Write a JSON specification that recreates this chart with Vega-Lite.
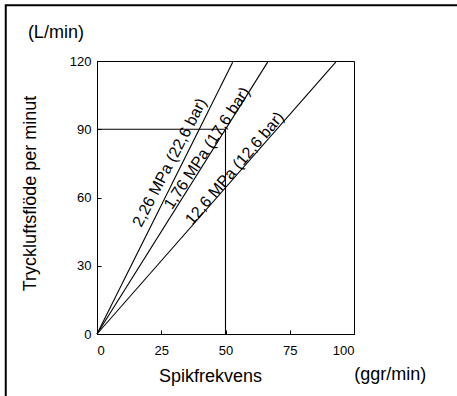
{
  "$schema": "https://vega.github.io/schema/vega-lite/v6.json",
  "width": 257,
  "height": 273,
  "autosize": "none",
  "padding": {"left": 97, "top": 61, "right": 103, "bottom": 62},
  "background": "white",
  "config": {
    "font": "Liberation Sans",
    "view": {"stroke": "black", "strokeWidth": 1},
    "axis": {"grid": false, "domainColor": "black", "tickColor": "black", "labelColor": "black", "titleColor": "black", "titleFontWeight": "normal"}
  },
  "datasets": {
    "lines": [
      {"serie": "2,26 MPa", "step": 0, "x": 0, "y": 0},
      {"serie": "2,26 MPa", "step": 1, "x": 52.8, "y": 119.5},
      {"serie": "1,76 MPa", "step": 0, "x": 0, "y": 0},
      {"serie": "1,76 MPa", "step": 1, "x": 66.4, "y": 119.5},
      {"serie": "12,6 MPa", "step": 0, "x": 0, "y": 0},
      {"serie": "12,6 MPa", "step": 1, "x": 92.9, "y": 119.5},
      {"serie": "ref", "step": 0, "x": 0, "y": 90},
      {"serie": "ref", "step": 1, "x": 50, "y": 90},
      {"serie": "ref", "step": 2, "x": 50, "y": 0}
    ],
    "labels": [
      {"serie": "2,26 MPa", "label": "2,26 MPa (22,6 bar)", "x": 28.3, "y": 75.4},
      {"serie": "1,76 MPa", "label": "1,76 MPa (17,6 bar)", "x": 42.8, "y": 81.7},
      {"serie": "12,6 MPa", "label": "12,6 MPa (12,6 bar)", "x": 53.6, "y": 72.8}
    ],
    "units": [
      {"unit": "(L/min)", "axis": "y"},
      {"unit": "(ggr/min)", "axis": "x"}
    ]
  },
  "layer": [
    {
      "data": {"name": "lines"},
      "mark": {"type": "line", "color": "black", "strokeWidth": 1.1},
      "encoding": {
        "x": {
          "field": "x", "type": "quantitative",
          "scale": {"domain": [0, 100], "nice": false, "zero": false},
          "axis": {
            "values": [0, 25, 50, 75, 100], "tickSize": -4, "labelPadding": 14,
            "labelFontSize": 13, "labelAngle": 0,
            "title": "Spikfrekvens", "titleFontSize": 18, "titleX": 113, "titleY": 47,
            "titleBaseline": "alphabetic", "titleAlign": "center"
          }
        },
        "y": {
          "field": "y", "type": "quantitative",
          "scale": {"domain": [0, 120], "nice": false, "zero": false},
          "axis": {
            "values": [0, 30, 60, 90, 120], "tickSize": -4, "labelPadding": 10,
            "labelFontSize": 13,
            "title": "Tryckluftsflöde per minut", "titleFontSize": 18, "titleX": -62, "titleY": 132,
            "titleBaseline": "alphabetic", "titleAlign": "center", "titleAngle": -90
          }
        },
        "detail": {"field": "serie"},
        "order": {"field": "step", "type": "quantitative"}
      }
    },
    {
      "data": {"name": "labels"},
      "transform": [{"filter": "datum.serie === '2,26 MPa'"}],
      "mark": {"type": "text", "angle": -62.5, "fontSize": 16, "color": "black", "baseline": "middle", "align": "center"},
      "encoding": {"x": {"field": "x", "type": "quantitative"}, "y": {"field": "y", "type": "quantitative"}, "text": {"field": "label"}}
    },
    {
      "data": {"name": "labels"},
      "transform": [{"filter": "datum.serie === '1,76 MPa'"}],
      "mark": {"type": "text", "angle": -56.5, "fontSize": 16, "color": "black", "baseline": "middle", "align": "center"},
      "encoding": {"x": {"field": "x", "type": "quantitative"}, "y": {"field": "y", "type": "quantitative"}, "text": {"field": "label"}}
    },
    {
      "data": {"name": "labels"},
      "transform": [{"filter": "datum.serie === '12,6 MPa'"}],
      "mark": {"type": "text", "angle": -49.5, "fontSize": 16, "color": "black", "baseline": "middle", "align": "center"},
      "encoding": {"x": {"field": "x", "type": "quantitative"}, "y": {"field": "y", "type": "quantitative"}, "text": {"field": "label"}}
    },
    {
      "data": {"name": "units"},
      "transform": [{"filter": "datum.axis === 'y'"}],
      "mark": {"type": "text", "fontSize": 18, "color": "black", "baseline": "middle", "align": "center"},
      "encoding": {"x": {"datum": -16, "type": "quantitative"}, "y": {"datum": 132.4, "type": "quantitative"}, "text": {"field": "unit"}}
    },
    {
      "data": {"name": "units"},
      "transform": [{"filter": "datum.axis === 'x'"}],
      "mark": {"type": "text", "fontSize": 18, "color": "black", "baseline": "middle", "align": "center"},
      "encoding": {"x": {"datum": 114.1, "type": "quantitative"}, "y": {"datum": -18, "type": "quantitative"}, "text": {"field": "unit"}}
    },
    {
      "data": {"name": "units"},
      "transform": [{"filter": "datum.axis === 'x'"}],
      "mark": {"type": "rect", "fill": "transparent", "stroke": "black", "strokeWidth": 2},
      "encoding": {"x": {"datum": -35.5, "type": "quantitative"}, "x2": {"datum": 145}, "y": {"datum": 144.5, "type": "quantitative"}, "y2": {"datum": -35}}
    }
  ]
}
